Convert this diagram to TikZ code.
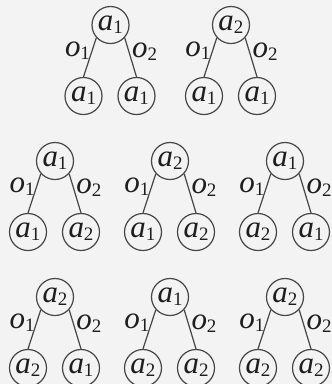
\documentclass[tikz,border=0pt]{standalone}
\usepackage{fontspec}
\newfontfamily\tms{Liberation Serif}
\newfontfamily\tmsit{Liberation Serif Italic}
\definecolor{bgc}{RGB}{243,243,243}
\definecolor{lnc}{RGB}{70,70,70}
\definecolor{txc}{RGB}{30,30,30}
\newcommand\sym[2]{{\tmsit #1}\raisebox{-3pt}{\tms\fontsize{19}{19}\selectfont #2}}
\tikzset{
  st/.style={circle,draw=lnc,line width=1.2pt,minimum size=37pt,inner sep=0pt,text=txc,font=\fontsize{31}{31}\selectfont},
  lab/.style={inner sep=0pt,text=txc,font=\fontsize{31}{31}\selectfont},
  edge/.style={draw=lnc,line width=1.2pt}
}
\newcommand\mytree[6]{%
  \node[st] (r#1) at (#2,#3) {\sym{a}{#4}};
  \node[st] (l#1) at (#2-27,#3+71) {\sym{a}{#5}};
  \node[st] (m#1) at (#2+26,#3+71) {\sym{a}{#6}};
  \draw[edge] (r#1.-138) -- (l#1.north);
  \draw[edge] (r#1.-42) -- (m#1.north);
  \node[lab] (p#1) at (#2-33,#3+26) {\sym{o}{1}};
  \node[lab] (q#1) at (#2+34,#3+27) {\sym{o}{2}};
}
\begin{document}
\begin{tikzpicture}[x=1pt,y=-1pt]
\fill[bgc] (0,0) rectangle (332,384);
\useasboundingbox (0,0) rectangle (332,384);
\mytree{1}{110.5}{25}{1}{1}{1}
\mytree{2}{231}{25}{2}{1}{1}
\mytree{3}{55}{161}{1}{1}{2}
\mytree{4}{170}{161}{2}{1}{2}
\mytree{5}{285}{161}{1}{2}{1}
\mytree{6}{55}{297}{2}{2}{1}
\mytree{7}{170}{297}{1}{2}{2}
\mytree{8}{285}{297}{2}{2}{2}
\end{tikzpicture}
\end{document}
